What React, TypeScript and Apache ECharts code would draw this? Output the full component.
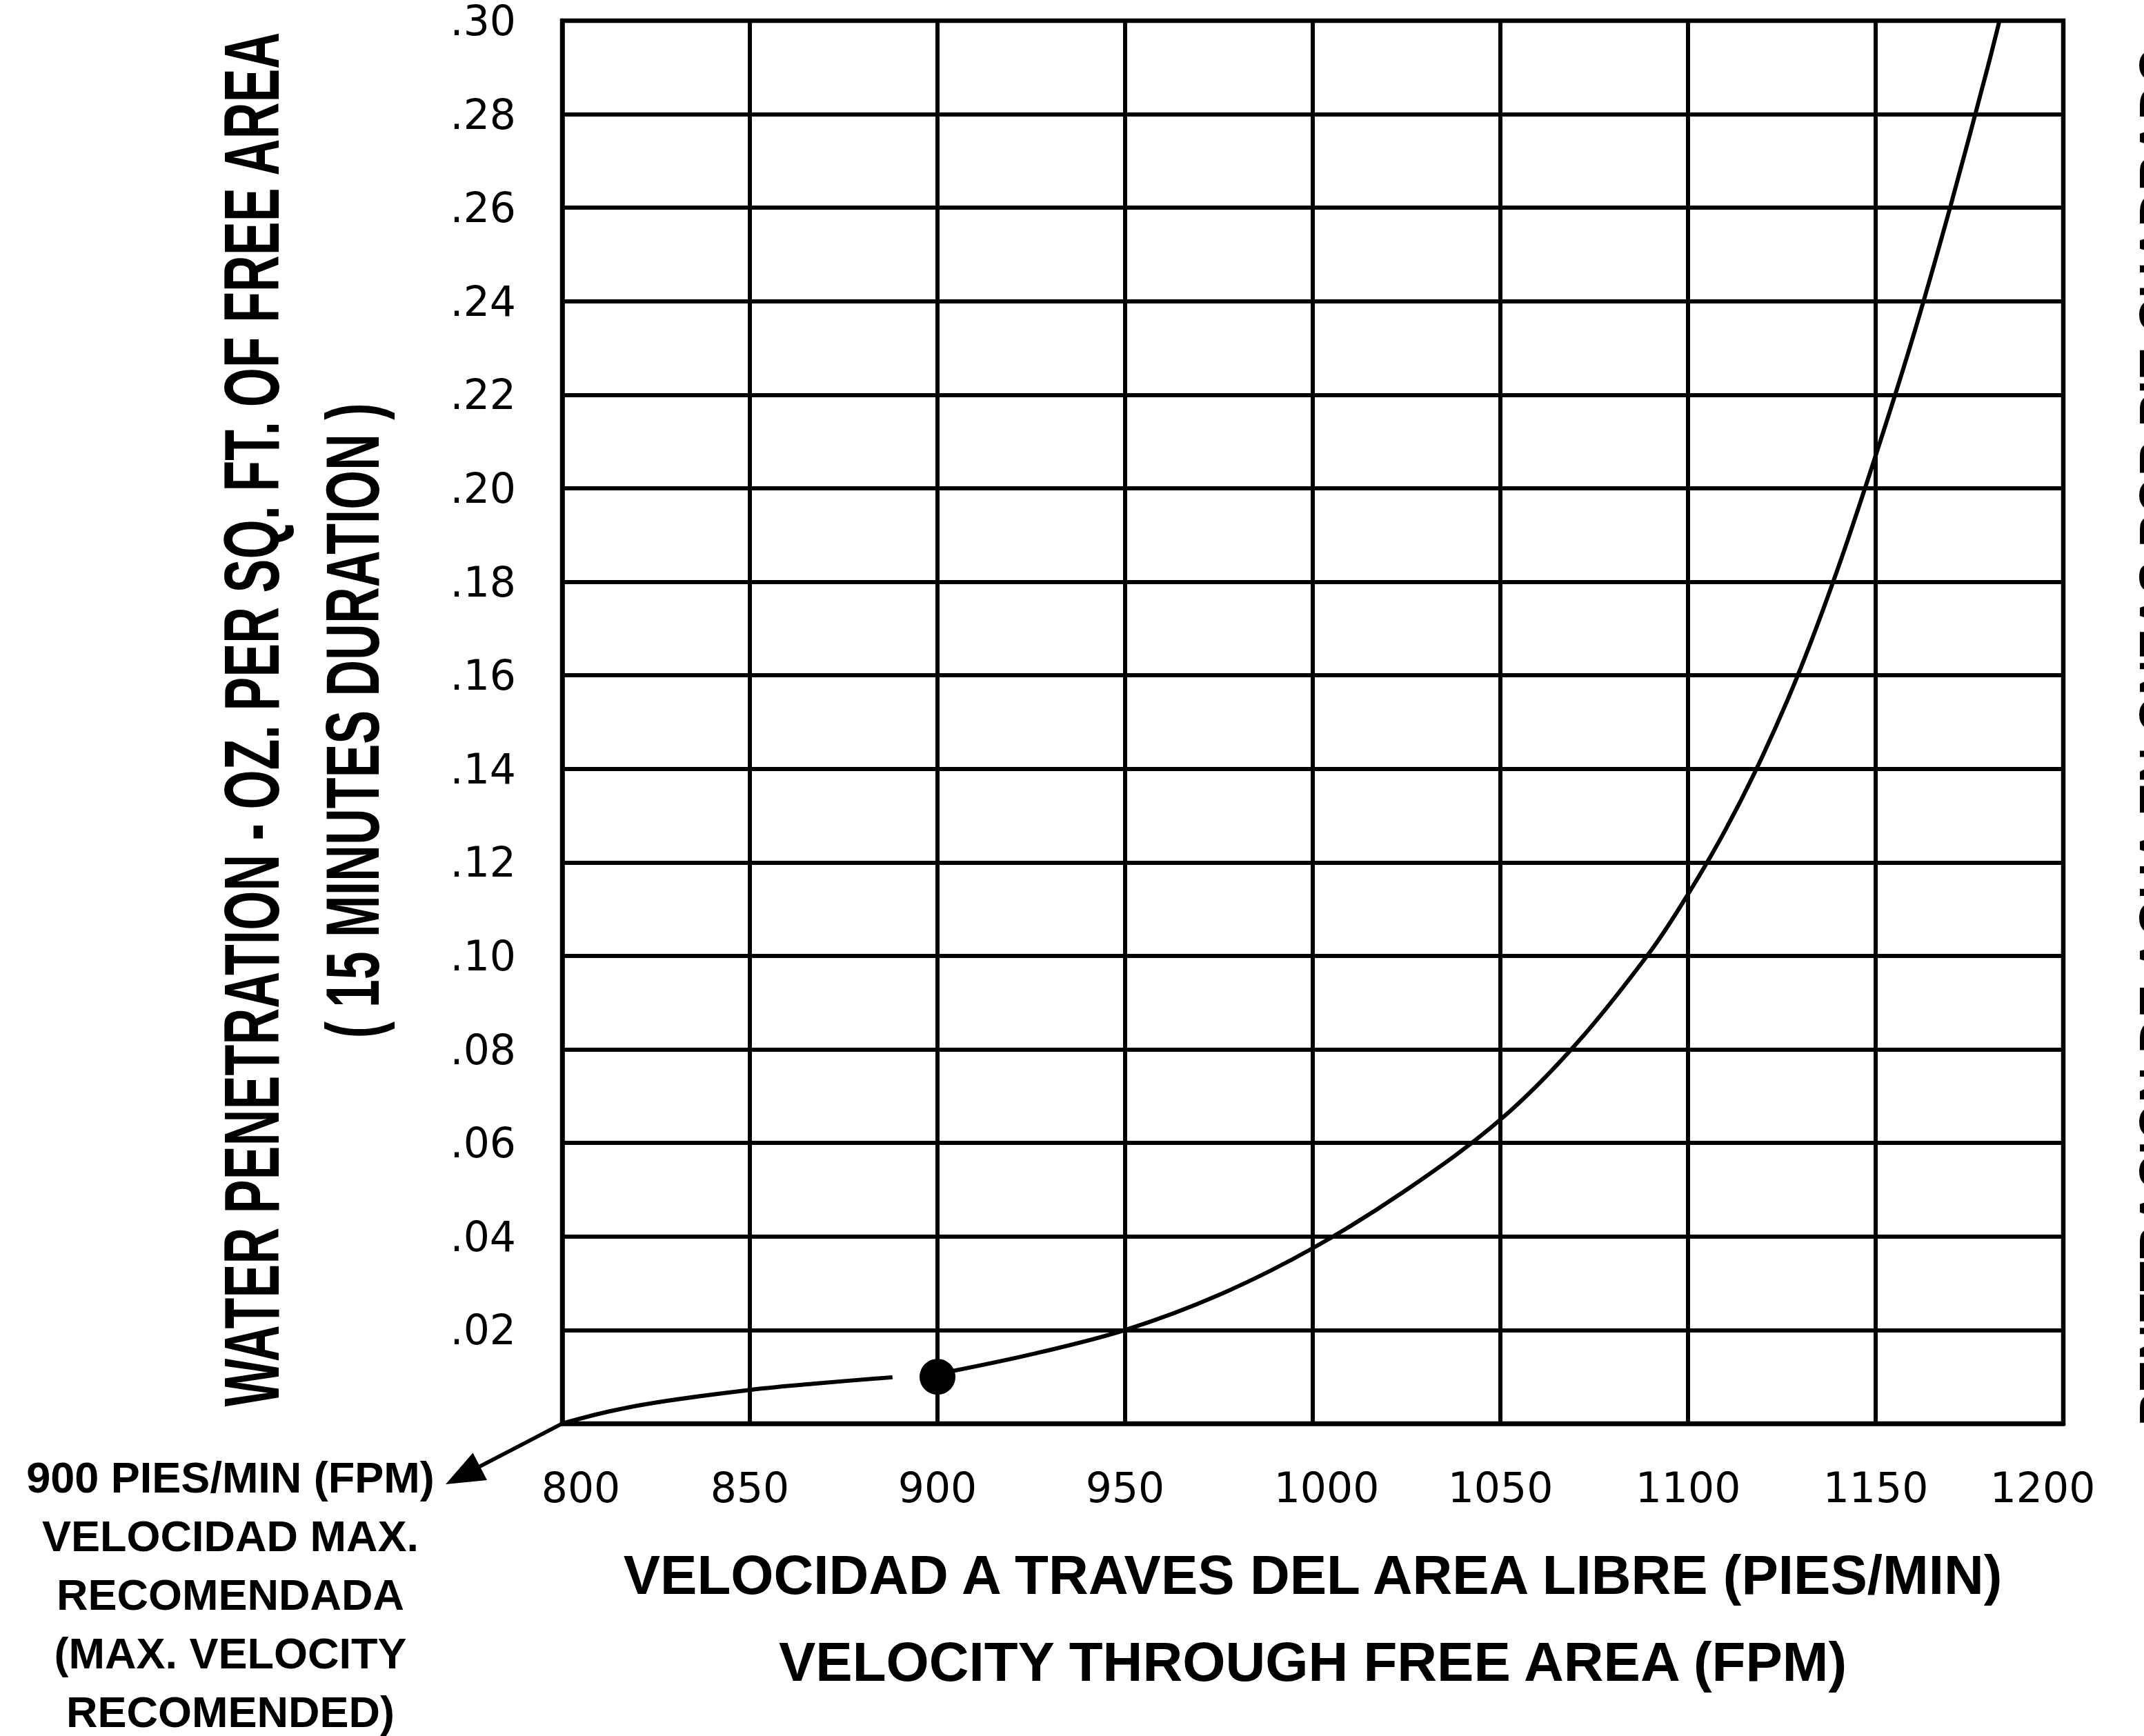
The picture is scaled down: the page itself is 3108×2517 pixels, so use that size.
import React, { useEffect, useRef } from "react";
import * as echarts from "echarts";

// ---------- data ----------
const X_MIN = 800;
const X_MAX = 1200;
const X_STEP = 50;
const Y_MIN = 0;
const Y_MAX = 0.3;
const Y_STEP = 0.02;

// lower curve segment (runs from the plot corner up to just before the marker)
const lowX = [800, 812, 825, 850, 868, 888];
const lowY = [0, 0.0025, 0.0045, 0.0072, 0.0086, 0.0099];

// upper curve segment (from the marker to the top of the chart)
const highX = [900, 925, 950, 975, 1000, 1025, 1050, 1070, 1090, 1100, 1110, 1120, 1130, 1140, 1150, 1160, 1170, 1180, 1183];
const highY = [0.0106, 0.0148, 0.02, 0.0275, 0.0375, 0.05, 0.065, 0.081, 0.101, 0.1132, 0.127, 0.143, 0.1615, 0.183, 0.207, 0.2325, 0.2605, 0.2905, 0.3];

// recommended max velocity marker
const markerX = [900];
const markerY = [0.01];

// ---------- texts ----------
const Y_TITLE_1 = "WATER PENETRATION - OZ. PER SQ. FT. OF FREE AREA";
const Y_TITLE_2 = "( 15 MINUTES DURATION )";
const RIGHT_TITLE = "PENETRACION DE AGUA EN ONZAS POR PIE CUADRADO";
const X_TITLE_ES = "VELOCIDAD A TRAVES DEL AREA LIBRE (PIES/MIN)";
const X_TITLE_EN = "VELOCITY THROUGH FREE AREA (FPM)";
const NOTE_LINES = [
  "900 PIES/MIN (FPM)",
  "VELOCIDAD MAX.",
  "RECOMENDADA",
  "(MAX. VELOCITY",
  "RECOMENDED)",
];

const FONT = '"Liberation Sans", Arial, sans-serif';
const TICK_FONT = '"DejaVu Sans", sans-serif';

function measure(text: string, size: number): number {
  try {
    const ctx = document.createElement("canvas").getContext("2d");
    if (!ctx) return 0;
    ctx.font = `bold ${size}px ${FONT}`;
    return ctx.measureText(text).width;
  } catch (e) {
    return 0;
  }
}

function fitScale(text: string, size: number, target: number, fallback: number): number {
  const w = measure(text, size);
  return w > 0 ? target / w : fallback;
}

function vText(text: string, x: number, y: number, size: number, length: number, fallback: number) {
  return {
    type: "text",
    x,
    y,
    rotation: Math.PI / 2,
    scaleX: fitScale(text, size, length, fallback),
    silent: true,
    style: {
      text,
      font: `bold ${size}px ${FONT}`,
      fill: "#000",
      textAlign: "center",
      textVerticalAlign: "middle",
      align: "center",
      verticalAlign: "middle",
    },
  };
}

export default function App() {
  const ref = useRef<HTMLDivElement>(null);

  useEffect(() => {
    if (!ref.current) return;
    const chart = echarts.init(ref.current, null, { renderer: "svg" });

    const GRID_LEFT = 815;
    const GRID_TOP = 24;
    const GRID_W = 2176;
    const GRID_H = 2040;

    const lineW = 6;
    const borderW = 6.5;
    const curveW = 6;

    const noteGraphics = NOTE_LINES.map((t, i) => ({
      type: "text",
      x: 334,
      y: 2142 + i * 85,
      silent: true,
      style: {
        text: t,
        font: `bold 63px ${FONT}`,
        fill: "#000",
        textAlign: "center",
        textVerticalAlign: "middle",
        align: "center",
        verticalAlign: "middle",
      },
    }));

    const tickRich = (pad: number[]) => ({
      fontSize: 60,
      fontFamily: TICK_FONT,
      color: "#000",
      padding: pad,
    });

    chart.setOption({
      animation: false,
      backgroundColor: "#fff",
      grid: {
        left: GRID_LEFT,
        top: GRID_TOP,
        width: GRID_W,
        height: GRID_H,
        show: true,
        borderColor: "#000",
        borderWidth: borderW,
        backgroundColor: "transparent",
        containLabel: false,
      },
      xAxis: {
        type: "value",
        min: X_MIN,
        max: X_MAX,
        interval: X_STEP,
        axisLine: { show: true, lineStyle: { color: "#000", width: borderW } },
        axisTick: { show: false },
        splitLine: { show: true, lineStyle: { color: "#000", width: lineW } },
        axisLabel: {
          margin: 63,
          fontSize: 60,
          fontFamily: TICK_FONT,
          color: "#000",
          formatter: (v: number) =>
            v === 800 ? `{first|${v}}` : v === 1200 ? `{last|${v}}` : v === 1000 ? `{mid|${v}}` : `{n|${v}}`,
          rich: {
            first: tickRich([0, 0, 0, 54]),
            last: tickRich([0, 60, 0, 0]),
            mid: tickRich([0, 0, 0, 40]),
            n: tickRich([0, 0, 0, 0]),
          },
        },
        name: X_TITLE_ES + "\n" + X_TITLE_EN,
        nameLocation: "middle",
        nameGap: 156,
        nameTextStyle: {
          fontSize: 80,
          fontWeight: "bold",
          fontFamily: FONT,
          color: "#000",
          lineHeight: 126,
        },
      },
      yAxis: {
        type: "value",
        min: Y_MIN,
        max: Y_MAX,
        interval: Y_STEP,
        axisLine: { show: true, lineStyle: { color: "#000", width: borderW } },
        axisTick: { show: false },
        splitLine: { show: true, lineStyle: { color: "#000", width: lineW } },
        axisLabel: {
          margin: 67,
          fontSize: 60,
          lineHeight: 20,
          padding: [20, 0, 0, 0],
          fontFamily: TICK_FONT,
          color: "#000",
          formatter: (v: number) =>
            v === 0 ? "" : "." + String(Math.round(v * 100)).padStart(2, "0"),
        },
      },
      series: [
        {
          type: "line",
          data: lowX.map((x, i) => [x, lowY[i]]),
          smooth: 0.35,
          symbol: "none",
          lineStyle: { color: "#000", width: curveW },
          z: 5,
          silent: true,
        },
        {
          type: "line",
          data: highX.map((x, i) => [x, highY[i]]),
          smooth: 0.35,
          symbol: "none",
          lineStyle: { color: "#000", width: curveW },
          z: 5,
          silent: true,
        },
        {
          type: "scatter",
          data: markerX.map((x, i) => [x, markerY[i]]),
          symbol: "circle",
          symbolSize: 52,
          itemStyle: { color: "#000", opacity: 1 },
          z: 6,
          silent: true,
        },
      ],
      graphic: [
        vText(Y_TITLE_1, 364, 1043, 114, 1997, 0.63),
        vText(Y_TITLE_2, 511, 1045, 110, 921, 0.66),
        vText(RIGHT_TITLE, 3129, 1067, 80, 2006, 0.89),
        ...noteGraphics,
        {
          type: "line",
          silent: true,
          shape: { x1: 815, y1: 2064, x2: 692, y2: 2128 },
          style: { stroke: "#000", lineWidth: 5.5 },
        },
        {
          type: "polygon",
          silent: true,
          shape: {
            points: [
              [646, 2152],
              [706, 2146],
              [685.5, 2106.6],
            ],
          },
          style: { fill: "#000" },
        },
      ],
    });

    return () => {
      chart.dispose();
    };
  }, []);

  return (
    <div
      ref={ref}
      style={{ position: "fixed", left: 0, top: 0, width: 3108, height: 2517, background: "#fff" }}
    />
  );
}
